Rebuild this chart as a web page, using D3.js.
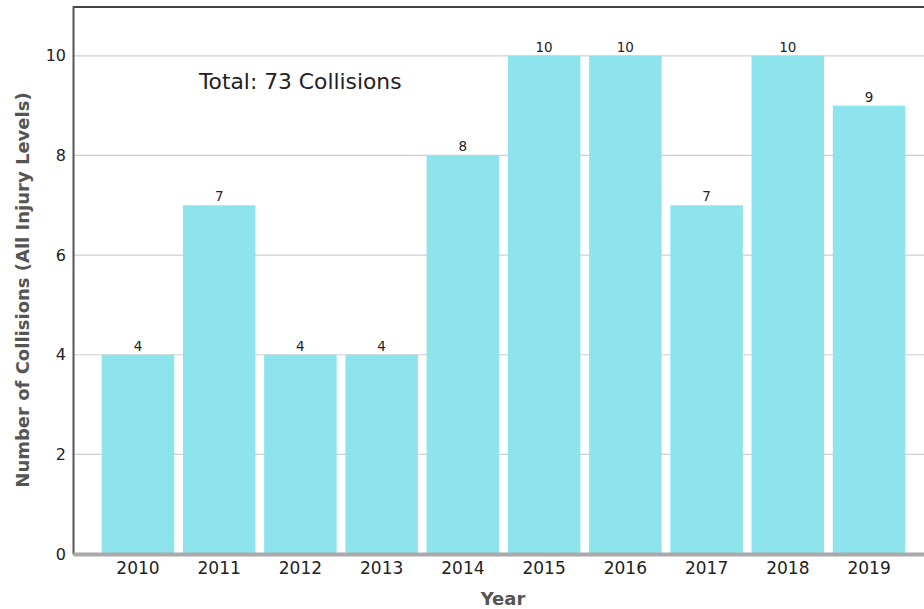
<!DOCTYPE html>
<html>
<head>
<meta charset="utf-8">
<script src="https://cdn.jsdelivr.net/npm/d3@7"></script>
<style>
  html, body { margin: 0; padding: 0; background: #fff; }
  svg { display: block; font-family: "DejaVu Sans", sans-serif; }
</style>
</head>
<body>
<svg id="chart" width="924" height="609"></svg>
<script>
// Collisions per year, all injury levels
const years = ["2010", "2011", "2012", "2013", "2014", "2015", "2016", "2017", "2018", "2019"];
const collisions = [4, 7, 4, 4, 8, 10, 10, 7, 10, 9];
const yTicks = [0, 2, 4, 6, 8, 10];
const totalLabel = "Total: 73 Collisions";
const xTitle = "Year";
const yTitle = "Number of Collisions (All Injury Levels)";

const svg = d3.select("#chart");
const plotLeft = 73, plotTop = 6, plotBottom = 554, plotRight = 934;

const x = d3.scaleBand()
  .domain(years)
  .range([plotLeft, plotRight])
  .paddingInner(0.107)
  .paddingOuter(0.353);

const y = d3.scaleLinear().domain([0, 11]).range([plotBottom, plotTop]);

// horizontal gridlines
svg.append("g")
  .selectAll("line")
  .data(yTicks.filter(d => d > 0))
  .join("line")
  .attr("x1", plotLeft).attr("x2", plotRight)
  .attr("y1", d => y(d)).attr("y2", d => y(d))
  .attr("stroke", "#cfcfcf").attr("stroke-width", 1.2);

// top frame line
svg.append("line")
  .attr("x1", plotLeft).attr("x2", plotRight)
  .attr("y1", y(11) + 1).attr("y2", y(11) + 1)
  .attr("stroke", "#444").attr("stroke-width", 2);

const rows = years.map((yr, i) => ({ yr, v: collisions[i] }));

// bars
svg.append("g")
  .selectAll("rect")
  .data(rows)
  .join("rect")
  .attr("x", d => x(d.yr))
  .attr("width", x.bandwidth())
  .attr("y", d => y(d.v))
  .attr("height", d => y(0) - y(d.v))
  .attr("fill", "#8ee4ed");

// value labels
svg.append("g")
  .selectAll("text")
  .data(rows)
  .join("text")
  .attr("x", d => x(d.yr) + x.bandwidth() / 2)
  .attr("y", d => y(d.v) - 4)
  .attr("text-anchor", "middle")
  .attr("font-size", 13.5)
  .attr("fill", "#222")
  .text(d => d.v);

// left axis
const yAxis = svg.append("g")
  .attr("transform", `translate(${plotLeft},0)`)
  .call(d3.axisLeft(y).tickValues(yTicks).tickSize(0).tickPadding(7));
yAxis.select(".domain").attr("stroke", "#555").attr("stroke-width", 2);
yAxis.selectAll("text").attr("font-size", 16).attr("fill", "#222")
  .attr("font-family", "DejaVu Sans, sans-serif");

// bottom axis
const xAxis = svg.append("g")
  .attr("transform", `translate(0,${plotBottom})`)
  .call(d3.axisBottom(x).tickSize(0).tickPadding(8));
xAxis.select(".domain").attr("stroke", "#aaa").attr("stroke-width", 4);
xAxis.selectAll("text").attr("font-size", 17).attr("fill", "#222")
  .attr("font-family", "DejaVu Sans, sans-serif");

// annotation
svg.append("text")
  .attr("x", 199).attr("y", 89)
  .attr("font-size", 21.8)
  .attr("fill", "#222")
  .text(totalLabel);

// axis titles
svg.append("text")
  .attr("x", 503).attr("y", 605)
  .attr("text-anchor", "middle")
  .attr("font-size", 18).attr("font-weight", "bold")
  .attr("fill", "#555")
  .text(xTitle);

svg.append("text")
  .attr("transform", `translate(29,${290}) rotate(-90)`)
  .attr("text-anchor", "middle")
  .attr("font-size", 18).attr("font-weight", "bold")
  .attr("fill", "#555")
  .text(yTitle);
</script>
</body>
</html>
